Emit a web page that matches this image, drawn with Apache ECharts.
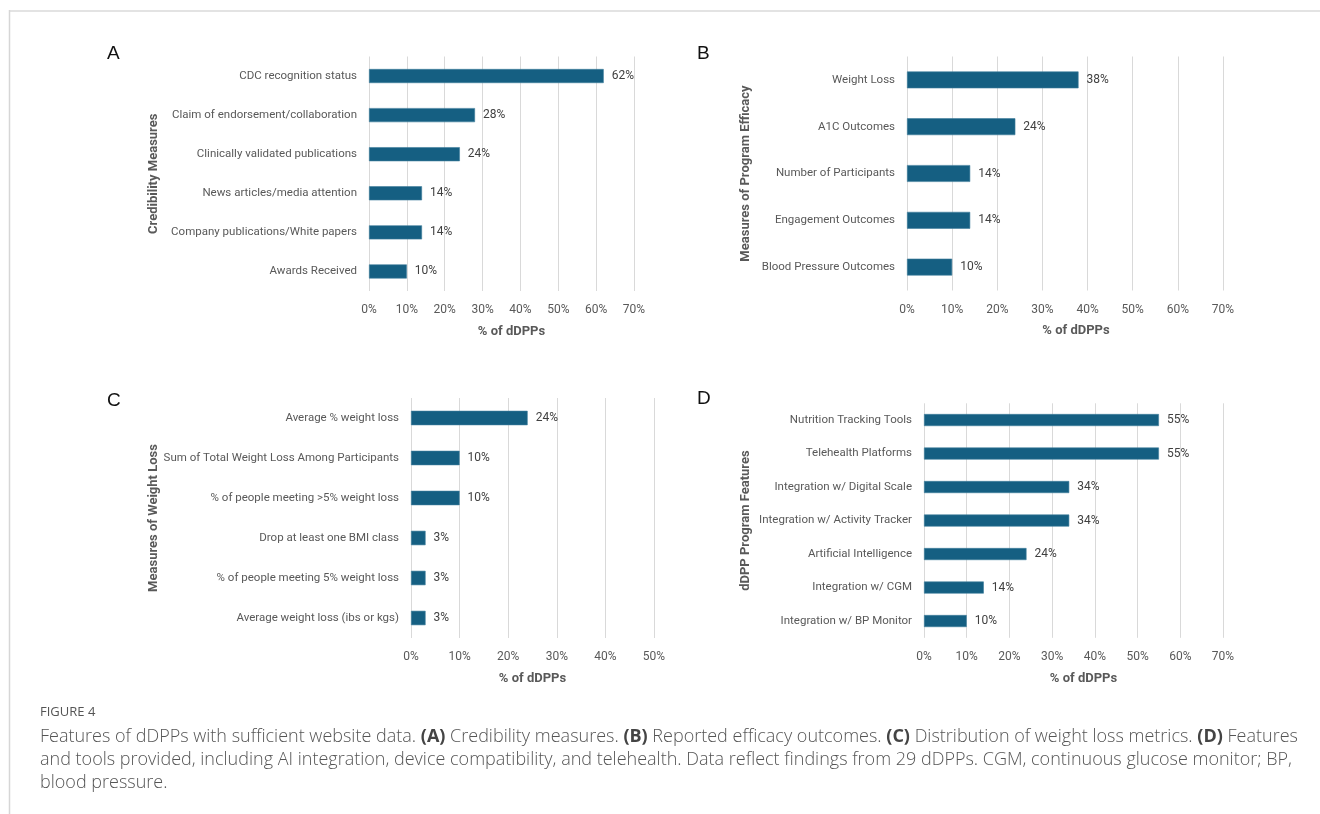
<!DOCTYPE html>
<html>
<head>
<meta charset="utf-8">
<title>Figure 4 - dDPP features</title>
<script src="https://cdn.jsdelivr.net/npm/echarts@6/dist/echarts.min.js"></script>
<style>
  html, body { margin: 0; padding: 0; background: #fff; }
  #main { width: 1320px; height: 814px; }
</style>
</head>
<body>
<div id="main"></div>
<script>
// panel A - credibility measures
const catsA = ['CDC recognition status', 'Claim of endorsement/collaboration', 'Clinically validated publications',
  'News articles/media attention', 'Company publications/White papers', 'Awards Received'];
const valsA = [62, 28, 24, 14, 14, 10];

// panel B - efficacy outcomes
const catsB = ['Weight Loss', 'A1C Outcomes', 'Number of Participants', 'Engagement Outcomes', 'Blood Pressure Outcomes'];
const valsB = [38, 24, 14, 14, 10];

// panel C - weight loss metrics
const catsC = ['Average % weight loss', 'Sum of Total Weight Loss Among Participants', '% of people meeting >5% weight loss',
  'Drop at least one BMI class', '% of people meeting 5% weight loss', 'Average weight loss (ibs or kgs)'];
const valsC = [24, 10, 10, 3, 3, 3];

// panel D - program features
const catsD = ['Nutrition Tracking Tools', 'Telehealth Platforms', 'Integration w/ Digital Scale', 'Integration w/ Activity Tracker',
  'Artificial Intelligence', 'Integration w/ CGM', 'Integration w/ BP Monitor'];
const valsD = [55, 55, 34, 34, 24, 14, 10];

const yTitles = ['Credibility Measures', 'Measures of Program Efficacy', 'Measures of Weight Loss', 'dDPP Program Features'];
const xTitle = '% of dDPPs';
const xMax = [70, 70, 50, 70];
const letters = ['A', 'B', 'C', 'D'];

const FONT = 'Roboto, "Liberation Sans", sans-serif';
const BAR = '#155f82';
const GREY = '#595959';

const chart = echarts.init(document.getElementById('main'));

// plot area of each panel (px)
const grids = [
  { left: 369, top: 56.5, width: 265, height: 234.5 },
  { left: 907, top: 56.5, width: 316, height: 234 },
  { left: 411, top: 398, width: 243, height: 240 },
  { left: 924, top: 403.3, width: 299, height: 234.5 }
];
const yGap = [209, 155, 251, 172];
const xShift = [20, 22, 0, 20];

const cats = [catsA, catsB, catsC, catsD];
const vals = [valsA, valsB, valsC, valsD];

const xAxes = [], yAxes = [], series = [];
for (let i = 0; i < 4; i++) {
  xAxes.push({
    type: 'value', gridIndex: i, min: 0, max: xMax[i], interval: 10,
    name: xTitle, nameLocation: 'middle', nameGap: 34, nameMoveOverlap: false,
    nameTextStyle: { fontFamily: FONT, fontSize: 13, fontWeight: 'bold', color: GREY, padding: [0, 0, 0, xShift[i]] },
    axisLine: { show: false }, axisTick: { show: false },
    axisLabel: { formatter: '{value}%', fontFamily: FONT, fontSize: 12, color: GREY, margin: 13 },
    splitLine: { lineStyle: { color: '#d9d9d9', width: 1 } }
  });
  yAxes.push({
    type: 'category', gridIndex: i, inverse: true, data: cats[i],
    name: yTitles[i], nameLocation: 'middle', nameRotate: 90, nameGap: yGap[i], nameMoveOverlap: false,
    nameTextStyle: { fontFamily: FONT, fontSize: 13, fontWeight: 'bold', color: GREY },
    axisLine: { show: false }, axisTick: { show: false },
    axisLabel: { fontFamily: FONT, fontSize: 11.5, color: GREY, margin: 12 }
  });
  series.push({
    type: 'bar', xAxisIndex: i, yAxisIndex: i, data: vals[i], barWidth: '36%',
    itemStyle: { color: BAR, borderColor: '#3f7d9c', borderWidth: 0.6 },
    label: { show: true, position: 'right', distance: 8, formatter: '{c}%', fontFamily: FONT, fontSize: 12, color: '#404040' }
  });
}

const letterPos = [[107, 44], [697, 44], [107, 391], [697, 389]];
const titles = letters.map((t, i) => ({
  text: t, left: letterPos[i][0], top: letterPos[i][1], padding: 0,
  textStyle: { fontFamily: '"Liberation Sans", Arial, sans-serif', fontSize: 19, fontWeight: 'normal', color: '#111' }
}));

const capFont = '"Open Sans", sans-serif';
titles.push({
  text: 'FIGURE 4', left: 40, top: 706, padding: 0,
  textStyle: { fontFamily: capFont, fontSize: 13, fontWeight: 'normal', color: '#555' }
});
titles.push({
  text: '{n|Features of dDPPs with sufficient website data. }{b|(A)}{n| Credibility measures. }{b|(B)}{n| Reported efficacy outcomes. }{b|(C)}{n| Distribution of weight loss metrics. }{b|(D)}{n| Features}\n' +
    '{n|and tools provided, including AI integration, device compatibility, and telehealth. Data reflect findings from 29 dDPPs. CGM, continuous glucose monitor; BP,}\n' +
    '{n|blood pressure.}',
  left: 40, top: 725.5, padding: 0,
  textStyle: {
    rich: {
      n: { fontFamily: capFont, fontSize: 18, fontWeight: 300, color: '#555', lineHeight: 23 },
      b: { fontFamily: capFont, fontSize: 18, fontWeight: 'bold', color: '#444', lineHeight: 23 }
    }
  }
});

chart.setOption({
  animation: false,
  title: titles,
  grid: grids,
  xAxis: xAxes,
  yAxis: yAxes,
  series: series,
  graphic: [
    { type: 'line', shape: { x1: 9, y1: 11, x2: 1320, y2: 11 }, style: { stroke: '#e3e3e3', lineWidth: 2 } },
    { type: 'line', shape: { x1: 9.5, y1: 10, x2: 9.5, y2: 814 }, style: { stroke: '#d6d6d6', lineWidth: 1.5 } }
  ]
});
</script>
</body>
</html>
